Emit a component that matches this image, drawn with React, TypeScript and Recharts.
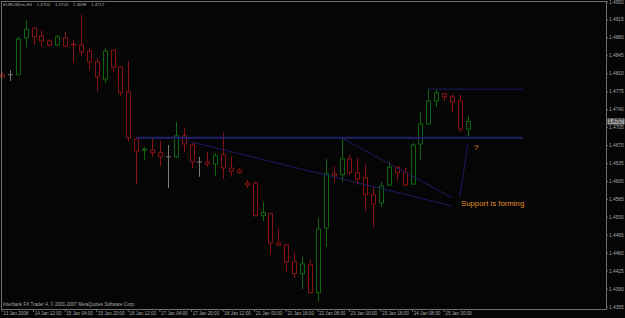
import React from 'react';
import { ComposedChart, Bar, XAxis, YAxis, ReferenceLine } from 'recharts';

// ---- data (EURUSDm, H4) ----
const opens = [1.4808,1.4808,1.4808,1.4880,1.4899,1.4884,1.4874,1.4866,1.4880,1.4868,
  1.4866,1.4854,1.4833,1.4800,1.4856,1.4823,1.4775,1.4683,1.4661,1.4661,
  1.4656,1.4648,1.4648,1.4689,1.4671,1.4638,1.4638,1.4634,1.4652,1.4626,
  1.4622,1.4597,1.4597,1.4533,1.4537,1.4480,1.4476,1.4443,1.4420,1.4437,
  1.4383,1.4509,1.4615,1.4613,1.4644,1.4617,1.4607,1.4574,1.4558,1.4593,
  1.4628,1.4617,1.4595,1.4673,1.4712,1.4757,1.4771,1.4765,1.4757,1.4702];
const highs = [1.4813,1.4817,1.4882,1.4915,1.4901,1.4895,1.4878,1.4886,1.4893,1.4876,
  1.4925,1.4860,1.4841,1.4860,1.4858,1.4825,1.4835,1.4687,1.4667,1.4685,
  1.4679,1.4671,1.4716,1.4704,1.4675,1.4648,1.4658,1.4656,1.4695,1.4648,
  1.4626,1.4603,1.4599,1.4560,1.4539,1.4509,1.4478,1.4461,1.4453,1.4447,
  1.4529,1.4644,1.4630,1.4685,1.4652,1.4646,1.4634,1.4589,1.4599,1.4638,
  1.4630,1.4626,1.4675,1.4736,1.4780,1.4780,1.4772,1.4771,1.4769,1.4727];
const lows = [1.4802,1.4796,1.4807,1.4862,1.4866,1.4862,1.4862,1.4864,1.4862,1.4831,
  1.4845,1.4817,1.4775,1.4792,1.4812,1.4767,1.4677,1.4595,1.4642,1.4648,
  1.4630,1.4587,1.4646,1.4656,1.4626,1.4609,1.4628,1.4611,1.4605,1.4609,
  1.4615,1.4587,1.4532,1.4523,1.4457,1.4474,1.4422,1.4412,1.4390,1.4381,
  1.4365,1.4472,1.4597,1.4599,1.4613,1.4593,1.4542,1.4511,1.4550,1.4592,
  1.4601,1.4591,1.4593,1.4642,1.4710,1.4745,1.4757,1.4734,1.4697,1.4688];
const closes = [1.4804,1.4808,1.4878,1.4897,1.4882,1.4874,1.4866,1.4882,1.4864,1.4866,
  1.4853,1.4833,1.4804,1.4854,1.4823,1.4773,1.4685,1.4659,1.4663,1.4656,
  1.4648,1.4648,1.4689,1.4673,1.4638,1.4638,1.4634,1.4650,1.4626,1.4620,
  1.4617,1.4593,1.4533,1.4539,1.4480,1.4476,1.4443,1.4420,1.4439,1.4383,
  1.4507,1.4615,1.4611,1.4644,1.4617,1.4605,1.4574,1.4556,1.4591,1.4628,
  1.4617,1.4593,1.4671,1.4712,1.4757,1.4773,1.4765,1.4755,1.4702,1.4717];

const EMPTY_SLOTS = 17; // chart shift area on the right
const tickIdx = [0,4,8,12,16,20,24,28,32,36,40,44,48,52,56];
const tickLabels = ['13 Jan 2008','14 Jan 12:00','15 Jan 04:00','15 Jan 20:00','16 Jan 12:00',
  '17 Jan 04:00','17 Jan 20:00','18 Jan 12:00','21 Jan 00:00','21 Jan 16:00','22 Jan 08:00',
  '23 Jan 00:00','23 Jan 16:00','24 Jan 08:00','25 Jan 00:00'];
const yTicks = [1.4355,1.4390,1.4425,1.4460,1.4495,1.4530,1.4565,1.4600,1.4635,1.4670,
  1.4705,1.4740,1.4775,1.4810,1.4845,1.4880,1.4915,1.4950];
const yDomain = [1.43511, 1.49520];

// trend objects
const supportLevel = 1.4685;
const resistanceLevel = 1.4780;
const trend1 = [{ x: 24, y: 1.4677 }, { x: 57, y: 1.4552 }];
const trend2 = [{ x: 43, y: 1.4685 }, { x: 57, y: 1.4568 }];
const trend3 = [{ x: 58, y: 1.4570 }, { x: 59, y: 1.4673 }];

const header = ['EURUSDm,H4', '1.4702', '1.4720', '1.4698', '1.4717'];

const data = [];
for (let i = 0; i < opens.length + EMPTY_SLOTS; i++) {
  if (i < opens.length) {
    data.push({ idx: i, open: opens[i], high: highs[i], low: lows[i], close: closes[i] });
  } else {
    data.push({ idx: i, open: null, high: null, low: null, close: null });
  }
}
const lastClose = closes[closes.length - 1];

const BG = '#050506';
const GREEN = '#0f660f';
const RED = '#881212';
const DOJI = '#7a7a7a';
const TEXT = '#a8a8a8';
const NAVY = '#1c1c60';
const FONT = '"Liberation Sans", Arial, sans-serif';

const Candle = (props: any) => {
  const { x, y, width, height, payload } = props;
  if (!payload || payload.high == null) return null;
  const { open, close, high, low } = payload;
  const top = Math.min(y, y + height);
  const h = Math.abs(height);
  const ppu = h / (high - low);
  const yOf = (v: number) => top + (high - v) * ppu;
  const cx = Math.round(x + width / 2) + 0.5;
  const yo = yOf(open);
  const yc = yOf(close);
  const color = close > open ? GREEN : close < open ? RED : DOJI;
  const bTop = Math.min(yo, yc);
  const bH = Math.abs(yo - yc);
  return (
    <g>
      <line x1={cx} x2={cx} y1={top} y2={top + h} stroke={color} strokeWidth={1} />
      {bH < 1 ? (
        <line x1={cx - 2.5} x2={cx + 2.5} y1={bTop} y2={bTop} stroke={color} strokeWidth={1} />
      ) : (
        <rect x={cx - 2} y={bTop} width={4} height={bH} fill={BG} stroke={color} strokeWidth={1} />
      )}
    </g>
  );
};

const XTick = (props: any) => {
  const { x, y, payload } = props;
  const k = tickIdx.indexOf(payload.value);
  if (k < 0) return null;
  return (
    <g>
      <line x1={x} x2={x} y1={y} y2={y + 3} stroke={TEXT} strokeWidth={0.6} />
      <text x={x + 1.2} y={y + 4.6} fontSize={4.6} fill={TEXT} fontFamily={FONT} dominantBaseline="central" textAnchor="start">
        {tickLabels[k]}
      </text>
    </g>
  );
};

const YTick = (props: any) => {
  const { x, y, payload } = props;
  return (
    <g>
      <line x1={x} x2={x + 2} y1={y} y2={y} stroke={TEXT} strokeWidth={0.6} />
      <text x={x + 3} y={y} fontSize={4.8} fill={TEXT} fontFamily={FONT} dominantBaseline="central" textAnchor="start">
        {Number(payload.value).toFixed(4)}
      </text>
    </g>
  );
};

const BidLabel = (props: any) => {
  const vb = props.viewBox || {};
  const right = (vb.x || 0) + (vb.width || 0);
  const y = vb.y || 0;
  return (
    <g>
      <rect x={right + 1.5} y={y - 3} width={17} height={6} fill="#9a9a9a" />
      <text x={right + 2.5} y={y} fontSize={4.8} fill="#000" fontFamily={FONT} dominantBaseline="central">
        {lastClose.toFixed(4)}
      </text>
    </g>
  );
};

export default function App() {
  return (
    <div style={{ position: 'absolute', left: 0, top: 0, width: 625, height: 318, background: BG, overflow: 'hidden' }}>
      <div style={{ position: 'absolute', left: -2, top: 0 }}>
        <ComposedChart width={627} height={318} data={data} margin={{ top: 1, right: 0, bottom: 0, left: 0 }} barCategoryGap={0}>
          <XAxis dataKey="idx" type="category" ticks={tickIdx} interval={0} tick={<XTick />} height={9}
            axisLine={false} tickLine={false} tickSize={0} tickMargin={0} />
          <YAxis orientation="right" domain={yDomain} allowDataOverflow ticks={yTicks} interval={0}
            width={19} axisLine={false} tickLine={false} tickSize={0} tickMargin={0} tick={<YTick />} />
          <ReferenceLine segment={trend1} stroke={NAVY} strokeWidth={1} />
          <ReferenceLine segment={trend2} stroke={NAVY} strokeWidth={1} />
          <ReferenceLine segment={trend3} stroke={NAVY} strokeWidth={1} />
          <ReferenceLine segment={[{ x: 17, y: supportLevel }, { x: 66, y: supportLevel }]} stroke="#202068" strokeWidth={2} />
          <ReferenceLine segment={[{ x: 54, y: resistanceLevel }, { x: 66, y: resistanceLevel }]} stroke={NAVY} strokeWidth={1} />
          <Bar dataKey={(d: any) => (d.high == null ? null : [d.low, d.high])} shape={<Candle />} barSize={6} isAnimationActive={false} />
          <ReferenceLine y={lastClose} stroke="none" label={(p: any) => <BidLabel {...p} />} />
        </ComposedChart>
      </div>
      <div style={{ position: 'absolute', left: 1, top: 1, width: 606, height: 309, boxSizing: 'border-box', border: '1px solid #6e6e6e', pointerEvents: 'none' }} />
      {header.map((t, i) => (
        <span key={i} style={{ position: 'absolute', left: [3, 36.7, 54.9, 73, 91][i], top: 1.8, fontSize: 4.4, lineHeight: '5px', color: TEXT, fontFamily: FONT, whiteSpace: 'pre' }}>{t}</span>
      ))}
      <span style={{ position: 'absolute', left: 3, top: 302.2, fontSize: 4.6, lineHeight: '5px', color: TEXT, fontFamily: FONT, whiteSpace: 'pre' }}>
        Interbank FX Trader 4, © 2001-2007 MetaQuotes Software Corp.
      </span>
      <span style={{ position: 'absolute', left: 461, top: 200.4, fontSize: 7.8, lineHeight: '7.8px', color: '#e0902a', fontFamily: FONT, whiteSpace: 'pre' }}>
        Support is forming
      </span>
      <span style={{ position: 'absolute', left: 474, top: 144.2, fontSize: 8, lineHeight: '8px', color: '#e0902a', fontFamily: FONT }}>?</span>
    </div>
  );
}
